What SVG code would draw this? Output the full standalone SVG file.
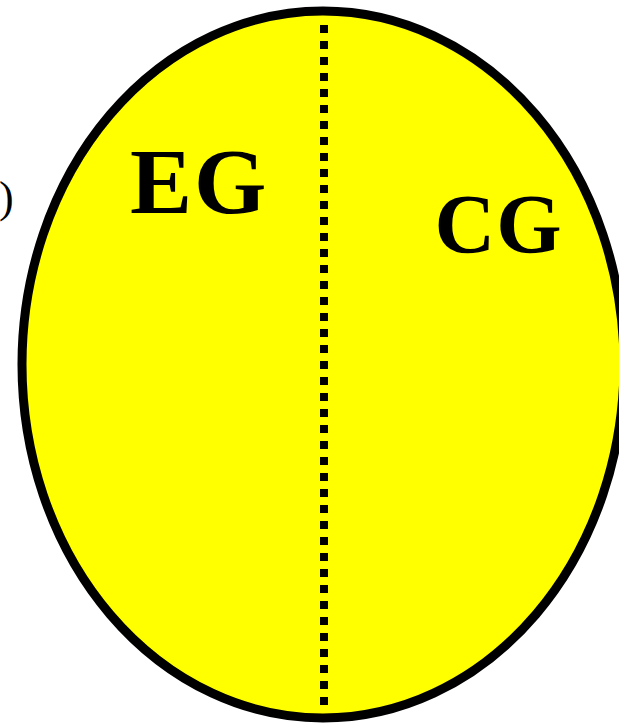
<svg xmlns="http://www.w3.org/2000/svg" width="619" height="723" viewBox="0 0 619 723">
<style>
.lbl{font-family:"Liberation Serif","Times New Roman",serif;font-weight:bold;fill:#000}
</style>
<rect width="619" height="723" fill="#fff"/>
<g id="cell">
<ellipse cx="323" cy="364.5" rx="301" ry="353.5" fill="#ffff00" stroke="#000" stroke-width="9"/>
</g>
<g id="connectors">
<line x1="324" y1="25" x2="324" y2="706" stroke="#000" stroke-width="8" stroke-dasharray="8 8"/>
</g>
<g id="EG"><text class="lbl" x="130" y="212.7" font-size="93" letter-spacing="2">EG</text></g>
<g id="CG"><text class="lbl" x="434.5" y="252.7" font-size="84" letter-spacing="1">CG</text></g>
<text x="-1" y="212" font-family="Liberation Serif,serif" font-size="44">)</text>
</svg>
